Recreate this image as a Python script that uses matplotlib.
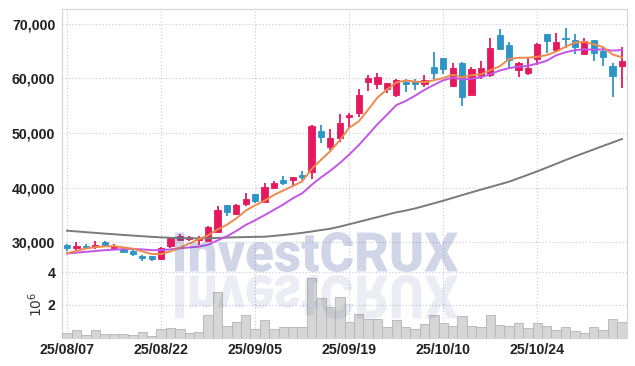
import numpy as np
import pandas as pd
import matplotlib
matplotlib.use("Agg")
import matplotlib.pyplot as plt
from matplotlib.textpath import TextPath
from matplotlib.patches import PathPatch
from matplotlib.font_manager import FontProperties
from matplotlib.transforms import Affine2D, IdentityTransform

# ---------------- data ----------------
holidays = ["2025-08-15", "2025-10-03", "2025-10-06", "2025-10-07", "2025-10-08", "2025-10-09"]
dates = pd.bdate_range("2025-08-07", "2025-11-06", freq="C", holidays=holidays)

opens = [29500, 29000, 29320, 29200, 30050, 29000, 28710, 28460, 27430, 27430,
         26890, 29370, 30470, 30650, 30420, 30300, 31940, 36770, 35120, 37000,
         38840, 37430, 39940, 41400, 41450, 42260, 42920, 50420, 47490, 49030,
         52930, 53710, 59390, 58910, 58110, 56950, 59270, 59460, 59020, 62130,
         63670, 58650, 62860, 56950, 60430, 60610, 67930, 66100, 61530, 61030,
         63540, 68120, 65190, 67380, 67020, 64400, 67020, 65000, 62260, 62260]
highs = [29600, 30000, 29680, 30300, 30230, 29750, 28900, 28550, 27620, 27570,
         29190, 30910, 31460, 31150, 31150, 33040, 36640, 36770, 37000, 39080,
         38840, 40790, 41160, 42130, 41950, 43100, 51460, 51410, 50680, 53480,
         53710, 58000, 60610, 60920, 59200, 59820, 59820, 59880, 60610, 64770,
         63670, 62760, 63050, 62080, 63180, 67330, 68980, 66700, 63050, 63780,
         66520, 68120, 68240, 69160, 68120, 67330, 67020, 65790, 62760, 65790]
lows = [28450, 28600, 28700, 28700, 29200, 28900, 27980, 27480, 26630, 26630,
        26700, 28900, 30360, 30240, 29500, 30300, 31940, 34810, 34940, 36640,
        37250, 37370, 39700, 40430, 40480, 41400, 41530, 48120, 46890, 48410,
        50860, 52980, 57690, 58000, 57380, 56640, 57560, 57870, 58470, 59830,
        60800, 58360, 55000, 56950, 59830, 60300, 65190, 61710, 60190, 60610,
        62440, 64700, 64880, 65500, 64460, 64400, 63230, 62310, 56530, 58180]
closes = [29000, 29320, 29080, 29500, 29320, 29250, 28160, 27850, 27070, 27000,
          29010, 30730, 31150, 31020, 30790, 32740, 35910, 35600, 36820, 37920,
          37610, 40060, 40910, 40910, 41950, 41950, 51280, 49320, 49030, 51880,
          53290, 56950, 60060, 60250, 59200, 59700, 58910, 58970, 59700, 61030,
          61710, 61840, 56640, 61660, 61840, 65500, 65370, 63360, 62760, 61950,
          66340, 66830, 66600, 67200, 65790, 66890, 64700, 63960, 60490, 63180]
volumes = [260000, 460000, 130000, 460000, 200000, 200000, 200000, 130000, 320000, 70000,
           520000, 580000, 520000, 280000, 340000, 1380000, 2800000, 690000, 950000, 1370000,
           520000, 1080000, 520000, 650000, 650000, 650000, 3640000, 2410000, 1880000, 2470000,
           930000, 1430000, 1140000, 1140000, 630000, 1060000, 630000, 500000, 810000, 1370000,
           870000, 690000, 1300000, 690000, 630000, 1370000, 750000, 690000, 870000, 560000,
           870000, 690000, 440000, 630000, 380000, 280000, 630000, 440000, 1120000, 930000]
ma5 = [27990, 28430, 28850, 29100, 29244, 29294, 29062, 28816, 28330, 27866,
       27818, 28332, 28992, 29782, 30540, 31286, 32322, 33212, 34372, 35798,
       36772, 37602, 38664, 39482, 40288, 41156, 43400, 45082, 46706, 48692,
       50960, 52094, 54242, 56486, 57950, 59232, 59624, 59406, 59296, 59662,
       60064, 60650, 60184, 60576, 60738, 61496, 62202, 63546, 63766, 63788,
       63956, 64248, 64896, 65784, 66552, 66662, 66236, 65708, 64366, 63844]
ma10 = [27950, 28100, 28250, 28400, 28550, 28650, 28750, 28780, 28700, 28555,
        28556, 28697, 28904, 29056, 29203, 29552, 30327, 31102, 32077, 33169,
        34029, 34962, 35938, 36927, 38043, 38964, 40501, 41873, 43094, 44490,
        46058, 47747, 49662, 51596, 53321, 55096, 55859, 56824, 57891, 58806,
        59648, 60137, 59795, 59936, 60200, 60780, 61426, 61865, 62171, 62263,
        62726, 63225, 64221, 64775, 65170, 65309, 65242, 65302, 65075, 65198]
ma60 = [32120, 31990, 31850, 31720, 31590, 31470, 31340, 31220, 31110, 31000,
        30900, 30830, 30770, 30740, 30720, 30750, 30800, 30860, 30920, 30950,
        30990, 31020, 31170, 31340, 31520, 31720, 31970, 32230, 32480, 32860,
        33300, 33730, 34170, 34600, 35040, 35470, 35800, 36190, 36660, 37130,
        37610, 38120, 38630, 39140, 39630, 40120, 40600, 41090, 41720, 42350,
        42990, 43670, 44360, 45050, 45720, 46360, 47000, 47640, 48270, 48900]
price_ticks = [30000, 40000, 50000, 60000, 70000]
vol_ticks = [2, 4]
watermark = "InvestCRUX"

# ---------------- style ----------------
RED = "#e6195e"
BLUE = "#2e95c6"
GRID = "#c3c7d8"
SPINE = "#d4d4d4"
TXT = "#222222"
tick_font = FontProperties(family=["Liberation Sans Narrow", "Liberation Sans"], weight="bold", size=10.2)

W, H = 635, 366
fig = plt.figure(figsize=(W / 100, H / 100), dpi=100)
L, R = 62.3 / W, 626.7 / W
ax = fig.add_axes([L, 1 - 272 / H, R - L, (272 - 9.3) / H])
axv = fig.add_axes([L, 1 - 337.5 / H, R - L, (337.5 - 272) / H], sharex=ax)

x = np.arange(len(dates))
o = np.array(opens); c = np.array(closes); hi = np.array(highs); lo = np.array(lows)
up = c >= o
cols = np.where(up, RED, BLUE)

# candles
ax.vlines(x, lo, hi, colors=cols, linewidth=1.3, zorder=3)
body_lo = np.minimum(o, c)
body_h = np.maximum(np.abs(c - o), 60)
ax.bar(x, body_h, bottom=body_lo, width=0.66, color=cols, edgecolor=cols, linewidth=0.6, zorder=4)

# moving averages
ax.plot(x, ma60, color="#7a7a7a", lw=1.4, zorder=5)
ax.plot(x, ma10, color="#c455e6", lw=1.4, zorder=5)
ax.plot(x, ma5, color="#ef8a4e", lw=1.4, zorder=6)

ax.set_xlim(-0.5, len(x) - 0.5)
ax.set_ylim(24560, 72640)
ax.set_yticks(price_ticks)
ax.set_yticklabels([f"{v:,}" for v in price_ticks])
ax.grid(True, color=GRID, linestyle=(0, (1, 2)), linewidth=0.8)
ax.tick_params(axis="both", length=0, pad=5, colors=TXT)
ax.tick_params(axis="x", labelbottom=False)
for lab in ax.get_yticklabels():
    lab.set_fontproperties(tick_font)
for s in ["left", "top", "right"]:
    ax.spines[s].set_color(SPINE)
ax.spines["bottom"].set_visible(False)
ax.set_axisbelow(True)

# volume
vol_m = np.array(volumes) / 1e6
axv.bar(x, vol_m, width=1.0, color="#d6d6d6", edgecolor="#b4b4b4", linewidth=0.6, zorder=3)
axv.set_ylim(0, 4.02)
axv.set_yticks(vol_ticks)
axv.set_yticklabels([str(v) for v in vol_ticks])
tick_idx = list(range(0, len(x), 10))
axv.set_xticks(tick_idx)
axv.set_xticklabels([dates[i].strftime("%y/%m/%d") for i in tick_idx])
axv.grid(True, color=GRID, linestyle=(0, (1, 2)), linewidth=0.8)
axv.set_axisbelow(True)
axv.tick_params(axis="both", length=0, colors=TXT)
axv.tick_params(axis="y", pad=5)
axv.tick_params(axis="x", pad=4)
for lab in axv.get_yticklabels() + axv.get_xticklabels():
    lab.set_fontproperties(tick_font)
for s in ["left", "bottom", "right"]:
    axv.spines[s].set_color(SPINE)
axv.spines["top"].set_visible(False)
axv.set_ylabel(r"$10^{6}$", fontsize=10, color="#333333", labelpad=2)

# watermark (drawn in pixel coordinates)
wfp = FontProperties(family=["Roboto", "DejaVu Sans"], weight="black")
tp = TextPath((0, 0), watermark, size=100, prop=wfp)
ext = tp.get_extents()
x0, x1 = 175, 458
ytop, ybase = 232, 272
sx = (x1 - x0) / ext.width
sy = (ybase - ytop) / ext.height
t_main = Affine2D().translate(-ext.x0, -ext.y0).scale(sx, sy).translate(x0, H - ybase)
fig.add_artist(PathPatch(t_main.transform_path(tp), facecolor="#3c50a0", edgecolor="none",
                         alpha=0.24, transform=IdentityTransform(), zorder=10))
t_ref = Affine2D().translate(-ext.x0, -ext.y0).scale(sx, -sy * 1.1).translate(x0, H - ybase - 3)
fig.add_artist(PathPatch(t_ref.transform_path(tp), facecolor="#3c50a0", edgecolor="none",
                         alpha=0.10, transform=IdentityTransform(), zorder=10))

fig.savefig("out.png", dpi=100)
